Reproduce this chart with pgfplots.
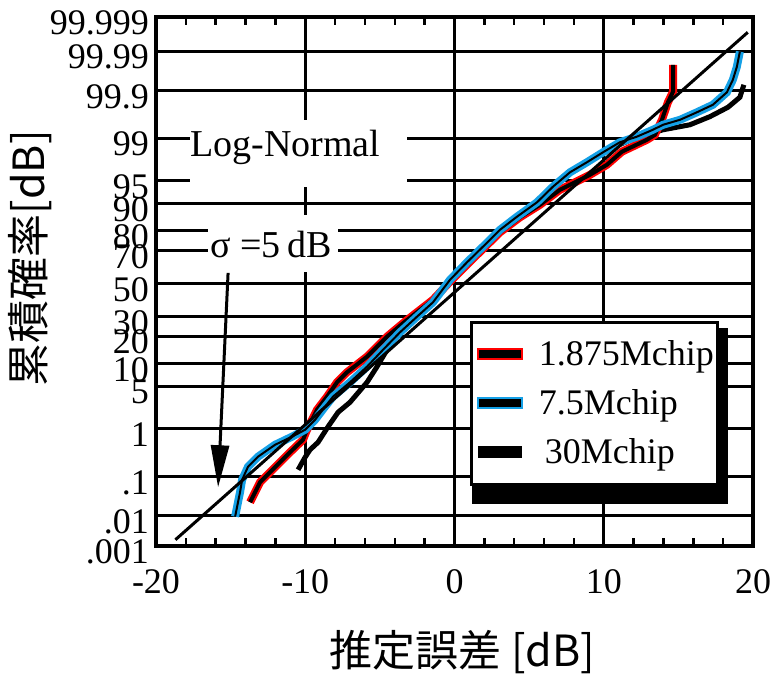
\documentclass[border=0pt]{standalone}
\usepackage{pgfplots}
\pgfplotsset{compat=1.18}
\usepackage{fontspec}
\setmainfont{Liberation Serif}
\newfontfamily\cjk{Noto Sans CJK JP}
\usetikzlibrary{arrows.meta}
\definecolor{myblue}{RGB}{20,160,230}
\definecolor{myred}{RGB}{255,0,0}
\pgfplotstableread{
x y
-10.48 -2.98
-10.01 -2.78
-9.68 -2.66
-9.14 -2.54
-8.47 -2.29
-7.80 -2.06
-7.00 -1.90
-5.86 -1.58
-5.19 -1.33
-4.32 -0.98
-2.98 -0.61
-1.44 -0.29
-0.30 0.03
1.04 0.35
3.05 0.86
5.53 1.30
7.74 1.79
9.95 2.11
12.22 2.34
13.97 2.46
15.77 2.54
17.11 2.67
18.32 2.82
19.12 2.98
19.39 3.18
}\blackdata
\pgfplotstableread{
x y
-13.70 -3.50
-13.03 -3.18
-12.19 -2.98
-11.02 -2.70
-10.15 -2.50
-9.88 -2.34
-9.21 -2.02
-8.54 -1.81
-7.87 -1.58
-7.20 -1.42
-5.86 -1.17
-4.52 -0.85
-3.32 -0.61
-1.44 -0.26
-0.30 0.03
1.04 0.35
3.05 0.82
4.39 1.06
5.73 1.26
7.07 1.50
8.41 1.66
9.08 1.74
10.21 1.90
11.22 2.11
12.89 2.30
13.43 2.38
13.90 2.62
14.30 2.90
14.64 3.07
14.64 3.50
}\reddata
\pgfplotstableread{
x y
-14.70 -3.73
-14.37 -3.34
-14.23 -3.14
-13.83 -2.93
-13.16 -2.77
-12.02 -2.58
-10.88 -2.45
-10.01 -2.34
-9.34 -2.18
-8.67 -1.97
-8.14 -1.81
-7.00 -1.58
-5.86 -1.33
-4.79 -1.06
-3.65 -0.78
-2.51 -0.53
-1.44 -0.30
-0.30 0.06
0.84 0.34
1.91 0.59
3.05 0.86
4.19 1.07
5.53 1.30
6.60 1.55
7.74 1.78
8.87 1.94
9.95 2.10
11.08 2.26
12.22 2.35
13.29 2.46
13.97 2.54
15.11 2.62
16.24 2.74
17.31 2.86
18.25 3.06
18.65 3.26
18.92 3.47
19.12 3.71
}\bluedata
\begin{document}
\begin{tikzpicture}
\begin{axis}[
  scale only axis, width=298.5pt, height=264.5pt,
  xmin=-20, xmax=20, ymin=-4.2, ymax=4.265,
  xtick={-20,-10,0,10,20}, xticklabels={-20,-10,0,10,20},
  minor x tick num=4,
  ytick={-4.2,-3.719,-3.090,-2.326,-1.645,-1.2816,-0.8416,-0.5244,0,0.5244,0.8416,1.2816,1.645,2.326,3.090,3.719,4.265},
  yticklabels={.001,.01,.1,1,5,10,20,30,50,70,80,90,95,99,99.9,99.99,99.999},
  xmajorgrids, ymajorgrids,
  grid style={black, line width=1.5pt},
  axis line style={line width=2pt},
  major tick length=0pt,
  minor tick length=4pt,
  tick align=inside,
  xtick pos=both, ytick pos=left,
  minor tick style={line width=1.2pt, black},
  tick label style={font=\fontsize{18}{18}\selectfont},
  xticklabel shift=8pt,
  yticklabel style={yshift=-3pt},
  xlabel={推定誤差 [dB]}, ylabel={累積確率[dB]},
  label style={font=\fontsize{21.5}{22}\selectfont\cjk},
  xlabel style={at={(axis description cs:0.513,-0.2)}, anchor=center},
  ylabel style={at={(axis description cs:-0.211,0.544)}, anchor=center},
  legend style={name=leg, at={(0.529,0.423)}, anchor=north west, fill=white, draw=black, line width=1.5pt,
    outer sep=0pt, font=\fontsize{18}{20}\selectfont, row sep=6.5pt, inner ysep=7pt, inner xsep=0pt},
  legend cell align=left,
]
\addlegendimage{legend image code/.code={\path[draw=none,fill=none] (-3pt,0) -- (28.5pt,0); \fill[black,draw=myred,line width=1pt] (0pt,-2.5pt) rectangle (22pt,2.5pt);}}
\addlegendentry{1.875Mchip}
\addlegendimage{legend image code/.code={\path[draw=none,fill=none] (-3pt,0) -- (28.5pt,0); \fill[black,draw=myblue,line width=1pt] (0pt,-2.5pt) rectangle (22pt,2.5pt);}}
\addlegendentry{7.5Mchip}
\addlegendimage{legend image code/.code={\path[draw=none,fill=none] (-3pt,0) -- (28.5pt,0); \fill[black,draw=none] (0pt,-3pt) rectangle (22pt,3pt);}}
\addlegendentry{\,30Mchip}

% annotation boxes
\fill[white] (axis cs:-17.72,1.55) rectangle (axis cs:-3.18,2.62);
\node[anchor=west, font=\fontsize{19}{19}\selectfont, inner sep=0pt] at (axis cs:-17.72,2.17) {Log-Normal};
\fill[white] (axis cs:-16.51,0.18) rectangle (axis cs:-7.80,1.10);
\node[font=\fontsize{19}{19}\selectfont, inner sep=0pt] at (axis cs:-12.3,0.62) {σ =5\,dB};
\draw[line width=1.5pt, -{Triangle[length=21pt, width=9pt]}] (axis cs:-15.17,0.17) -- (axis cs:-15.84,-3.26);

% 30 Mchip
\addplot[black, line width=2.5pt, forget plot] table {\blackdata};
% 1.875 Mchip
\addplot[myred, line width=4pt, forget plot] table {\reddata};
\addplot[black, line width=2pt, forget plot] table {\reddata};
% 7.5 Mchip
\addplot[myblue, line width=4pt, forget plot] table {\bluedata};
\addplot[black, line width=1pt, forget plot] table {\bluedata};
% Log-normal reference line
\addplot[black, line width=1.5pt, forget plot] coordinates {(-18.7,-4.10) (19.65,4.02)};
\end{axis}
% legend shadow (outside the box)
\fill[black] (leg.south west) rectangle ([xshift=5pt,yshift=-10pt]leg.south east);
\fill[black] ([yshift=-3pt]leg.north east) rectangle ([xshift=5pt]leg.south east);
\pgfresetboundingbox
\path ([xshift=-78pt,yshift=-64.5pt]current axis.south west) rectangle ([xshift=13.5pt,yshift=8.5pt]current axis.north east);
\end{tikzpicture}
\end{document}
